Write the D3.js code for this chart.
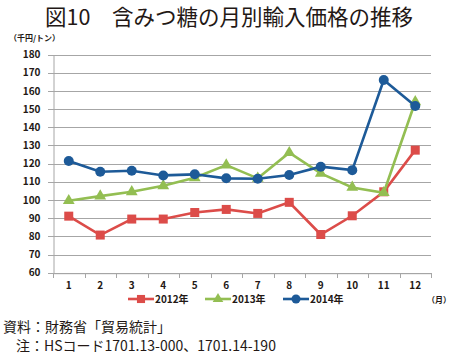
<!DOCTYPE html>
<html><head><meta charset="utf-8">
<script src="https://cdn.jsdelivr.net/npm/d3@7"></script>
<style>body{margin:0;background:#fff}svg{display:block}text{font-family:"Noto Sans CJK JP","Noto Sans",sans-serif}</style>
</head><body>
<script>
const months = ["1","2","3","4","5","6","7","8","9","10","11","12"];
const s2012 = [91.1,80.7,89.5,89.5,93.1,94.8,92.6,98.7,81.0,91.3,104.5,127.4];
const s2013 = [99.6,102.1,104.5,107.8,112.2,119.2,111.9,126.0,114.6,106.9,104.0,154.0];
const s2014 = [121.4,115.5,116.1,113.5,114.1,111.9,111.7,113.7,118.3,116.4,166.0,151.7];
const yTicks = [60,70,80,90,100,110,120,130,140,150,160,170,180];
const seriesNames = ["2012年","2013年","2014年"];
const colors = ["#DC4C49","#93BE52","#1D5A98"];
const markers = ["square","triangle","circle"];

const W=450,H=355;
const svg=d3.select("body").append("svg").attr("width",W).attr("height",H);
const x=d3.scaleBand().domain(months).range([53,431]);
const y=d3.scaleLinear().domain([60,180]).range([272.7,54.5]);

svg.append("text").attr("x",229).attr("y",25).attr("text-anchor","middle")
  .attr("font-size",21.5).attr("fill","#231815").text("図10　含みつ糖の月別輸入価格の推移");
svg.append("text").attr("x",9).attr("y",41).attr("font-size",8).attr("font-weight","bold").attr("fill","#231815").text("（千円/トン）");

// grid
svg.append("g").selectAll("line").data(yTicks).join("line")
  .attr("x1",48).attr("x2",431).attr("y1",d=>Math.round(y(d))+0.5).attr("y2",d=>Math.round(y(d))+0.5)
  .attr("stroke","#A6A6A6").attr("stroke-width",1);
// y axis
const ya=svg.append("g").attr("transform","translate(53.5,0)").call(d3.axisLeft(y).tickValues(yTicks).tickSize(0).tickPadding(13));
ya.select(".domain").attr("stroke","#A6A6A6");
ya.selectAll("text").attr("font-size",10).attr("font-weight","bold").attr("fill","#231815").attr("font-family","Liberation Sans, Arial, sans-serif");
// x axis
const xa=svg.append("g").attr("transform","translate(0,273.2)").call(d3.axisBottom(x).tickSize(0).tickPadding(9));
xa.select(".domain").attr("stroke","#A6A6A6");
xa.selectAll("text").attr("font-size",10).attr("font-weight","bold").attr("fill","#231815").attr("font-family","Liberation Sans, Arial, sans-serif");
svg.append("g").selectAll("line").data(months).join("line")
  .attr("x1",d=>Math.round(x(d)+x.bandwidth())+0.5).attr("x2",d=>Math.round(x(d)+x.bandwidth())+0.5)
  .attr("y1",273).attr("y2",278).attr("stroke","#A6A6A6");
svg.append("line").attr("x1",53.5).attr("x2",53.5).attr("y1",273).attr("y2",278).attr("stroke","#A6A6A6");

const data=[s2012,s2013,s2014];
const line=d3.line().x((d,i)=>x(months[i])+x.bandwidth()/2).y(d=>y(d));
function drawMarker(g,type,cx,cy,col,scale){
  scale=scale||1;
  if(type==="square") g.append("rect").attr("x",cx-4.5*scale).attr("y",cy-4.5*scale).attr("width",9*scale).attr("height",9*scale).attr("fill",col);
  else if(type==="circle") g.append("circle").attr("cx",cx).attr("cy",cy).attr("r",5*scale).attr("fill",col);
  else g.append("path").attr("d",d3.symbol(d3.symbolTriangle,60*scale*scale)()).attr("transform",`translate(${cx},${cy})`).attr("fill",col);
}
data.forEach((s,k)=>{
  const g=svg.append("g");
  g.append("path").datum(s).attr("d",line).attr("fill","none").attr("stroke",colors[k]).attr("stroke-width",2.6);
  s.forEach((v,i)=>drawMarker(g,markers[k],x(months[i])+x.bandwidth()/2,y(v),colors[k]));
});

// legend
const lx=[128,205,283];
seriesNames.forEach((n,k)=>{
  const g=svg.append("g");
  g.append("line").attr("x1",lx[k]).attr("x2",lx[k]+26).attr("y1",299).attr("y2",299).attr("stroke",colors[k]).attr("stroke-width",2.6);
  drawMarker(g,markers[k],lx[k]+13,299,colors[k],0.9);
  g.append("text").attr("x",lx[k]+27).attr("y",303).attr("font-size",10).attr("font-weight","bold").attr("fill","#231815").text(n);
});
svg.append("text").attr("x",427).attr("y",303).attr("font-size",8).attr("font-weight","bold").attr("fill","#231815").text("（月）");

svg.append("text").attr("x",3).attr("y",332).attr("font-size",14).attr("fill","#231815").text("資料：財務省「貿易統計」");
svg.append("text").attr("x",16).attr("y",351).attr("font-size",14).attr("fill","#231815").text("注：HSコード1701.13-000、1701.14-190");
</script>
</body></html>
